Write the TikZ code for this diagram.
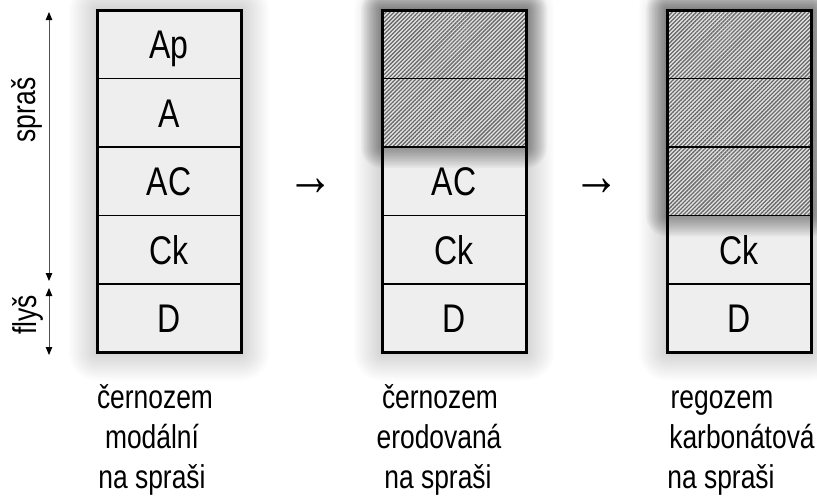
\documentclass[tikz,border=0pt]{standalone}
\usepackage{fontspec}
\setmainfont{Liberation Sans}[FakeStretch=0.8]
\usetikzlibrary{patterns.meta,arrows.meta}
\definecolor{cellfill}{RGB}{238,238,238}
\definecolor{hatchbg}{RGB}{228,228,228}
\definecolor{hatchline}{RGB}{105,105,105}
\definecolor{axisgray}{RGB}{80,80,80}
\tikzset{
  cellbase/.style={draw=black, line width=1.3pt, minimum width=144pt, minimum height=68.5pt,
    inner sep=0pt, outer sep=0pt, font=\fontsize{40}{44}\selectfont, text height=28.6pt, text depth=0pt},
  cell/.style={cellbase, fill=cellfill},
  hatchcell/.style={cellbase, preaction={fill=hatchbg},
    pattern={Lines[angle=45,distance=2.85pt,line width=1.3pt]}, pattern color=hatchline},
  outer/.style={draw=black, line width=3pt},
  lbl/.style={font=\fontsize{33}{38}\selectfont, inner sep=0pt, anchor=base},
  vlbl/.style={font=\fontsize{33}{38}\selectfont, inner sep=0pt, rotate=90},
  axis/.style={draw=axisgray, line width=0.9pt,
    {Triangle[length=8pt,width=6.5pt,color=black]}-{Triangle[length=8pt,width=6.5pt,color=black]}},
  arrowglyph/.style={font=\bfseries\fontsize{58}{60}\selectfont, inner sep=0pt},
}
\begin{document}
\begin{tikzpicture}[x=1pt,y=-1pt]
\fill[white] (0,0) rectangle (817,499);
\useasboundingbox (0,0) rectangle (817,499);

% soft glow around the columns
\foreach \cx in {97,382,667}{
  \foreach \r in {2,4,...,28}{
    \fill[black,opacity=0.011,rounded corners=\r pt] (\cx-\r,10-\r) rectangle (\cx+144+\r,352.5+\r);
  }
}

% column 1
\node[cell] (a1) at (169,44.25) {Ap};
\node[cell] (a2) at (169,112.75) {A};
\node[cell] (a3) at (169,181.25) {AC};
\node[cell] (a4) at (169,249.75) {Ck};
\node[cell] (a5) at (169,318.25) {D};

% column 2 (lower cells)
\node[cell] (b3) at (454,181.25) {AC};
\node[cell] (b4) at (454,249.75) {Ck};
\node[cell] (b5) at (454,318.25) {D};

% column 3 (lower cells)
\node[cell] (c4) at (739,249.75) {Ck};
\node[cell] (c5) at (739,318.25) {D};

% darker glow around eroded parts
\foreach \r in {1.5,3,...,21}{
  \fill[black,opacity=0.03,rounded corners=\r pt] (382-\r,10-\r) rectangle (526+\r,147+\r);
  \fill[black,opacity=0.03,rounded corners=\r pt] (667-\r,10-\r) rectangle (811+\r,215.5+\r);
}

\node[hatchcell] (b1) at (454,44.25) {};
\node[hatchcell] (b2) at (454,112.75) {};
\node[hatchcell] (c1) at (739,44.25) {};
\node[hatchcell] (c2) at (739,112.75) {};
\node[hatchcell] (c3) at (739,181.25) {};

% outer frames
\draw[outer] (a1.north west) rectangle (a5.south east);
\draw[outer] (b1.north west) rectangle (b5.south east);
\draw[outer] (c1.north west) rectangle (c5.south east);

% depth axis
\coordinate (st) at (49,12);
\coordinate (sb) at (49,281);
\coordinate (ft) at (49,288);
\coordinate (fb) at (49,355);
\draw[axis] (st) -- (sb);
\draw[axis] (ft) -- (fb);
\node[vlbl] (spras) at (27,110) {spraš};
\node[vlbl] (flys) at (28,315) {flyš};

% transition arrows
\node[arrowglyph] (arr1) at (311,187) {→};
\node[arrowglyph] (arr2) at (597,187) {→};

% captions
\node[lbl] (t11) at (155,408) {černozem};
\node[lbl] (t12) at (152,448) {modální};
\node[lbl] (t13) at (152,488) {na spraši};
\node[lbl] (t21) at (440,408) {černozem};
\node[lbl] (t22) at (439,448) {erodovaná};
\node[lbl] (t23) at (438,488) {na spraši};
\node[lbl] (t31) at (722,408) {regozem};
\node[lbl] (t32) at (742,448) {karbonátová};
\node[lbl] (t33) at (721,488) {na spraši};
\end{tikzpicture}
\end{document}
